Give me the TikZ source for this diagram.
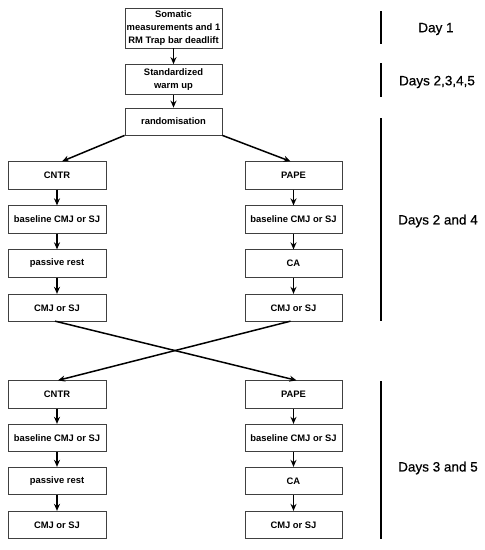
\documentclass[tikz,border=0pt]{standalone}
\usepackage{fontspec}
\setmainfont{Liberation Sans}
\newfontfamily\labfont[FakeBold=0.6]{Liberation Sans}
\usetikzlibrary{arrows.meta}
\begin{document}
\begin{tikzpicture}[x=1pt,y=-1pt,
  box/.style={draw=black!75,line width=0.8pt,fill=white,inner sep=0pt,align=center,
    font=\fontsize{9.4}{12.7}\selectfont\bfseries},
  arr/.style={line width=1.5pt,-{Stealth[length=7pt,width=6pt]}},
  bar/.style={line width=1.5pt},
  lab/.style={font=\labfont\fontsize{13.5}{16}\selectfont}]
\useasboundingbox (0,0) rectangle (485,550);
% top column
\node[box,minimum width=97pt,minimum height=40pt] (som) at (173.5,28) {Somatic\\measurements and 1\\RM Trap bar deadlift};
\node[box,minimum width=97pt,minimum height=30pt] (warm) at (173.5,79.5) {Standardized\\warm up};
\node[box,minimum width=97pt,minimum height=27pt] (rand) at (173.5,121.5) {randomisation};
% left column
\foreach \n/\y/\t in {cntrA/175.5/CNTR, baseA/219.5/baseline CMJ or SJ, restA/263.5/passive rest, cmjA/308/CMJ or SJ,
                     cntrB/394.5/CNTR, baseB/438/baseline CMJ or SJ, restB/481/passive rest, cmjB/525/CMJ or SJ}
  \node[box,minimum width=98pt,minimum height=27.5pt] (\n) at (57,\y) {\t};
% right column
\foreach \n/\y/\t in {papeA/175.5/PAPE, pbaseA/219.5/baseline CMJ or SJ, caA/263.5/CA, pcmjA/308/CMJ or SJ,
                     papeB/394.5/PAPE, pbaseB/438/baseline CMJ or SJ, caB/481/CA, pcmjB/525/CMJ or SJ}
  \node[box,minimum width=97pt,minimum height=27.5pt] (\n) at (293.5,\y) {\t};
% arrows
\draw[arr] (som) -- (warm);
\draw[arr] (warm) -- (rand);
\draw[arr] (rand.south west) -- ([xshift=5pt]cntrA.north);
\draw[arr] (rand.south east) -- ([xshift=-3pt]papeA.north);
\draw[arr] (cntrA) -- (baseA);
\draw[arr] (baseA) -- (restA);
\draw[arr] (restA) -- (cmjA);
\draw[arr] (papeA) -- (pbaseA);
\draw[arr] (pbaseA) -- (caA);
\draw[arr] (caA) -- (pcmjA);
\draw[arr] ([shift={(-2pt,1pt)}]cmjA.south) -- ([xshift=3pt]papeB.north);
\draw[arr] ([shift={(-3pt,1pt)}]pcmjA.south) -- ([xshift=1pt]cntrB.north);
\draw[arr] (cntrB) -- (baseB);
\draw[arr] (baseB) -- (restB);
\draw[arr] (restB) -- (cmjB);
\draw[arr] (papeB) -- (pbaseB);
\draw[arr] (pbaseB) -- (caB);
\draw[arr] (caB) -- (pcmjB);
% day bars
\coordinate (b1a) at (381,11); \coordinate (b1b) at (381,44);
\coordinate (b2a) at (381,63); \coordinate (b2b) at (381,97);
\coordinate (b3a) at (381,118); \coordinate (b3b) at (381,321);
\coordinate (b4a) at (381,381); \coordinate (b4b) at (381,539);
\draw[bar] (b1a) -- (b1b);
\draw[bar] (b2a) -- (b2b);
\draw[bar] (b3a) -- (b3b);
\draw[bar] (b4a) -- (b4b);
\node[lab] (d1) at (436,29) {Day 1};
\node[lab] (d2) at (437,82) {Days 2,3,4,5};
\node[lab] (d3) at (438,221) {Days 2 and 4};
\node[lab] (d4) at (438,468) {Days 3 and 5};
\end{tikzpicture}
\end{document}
